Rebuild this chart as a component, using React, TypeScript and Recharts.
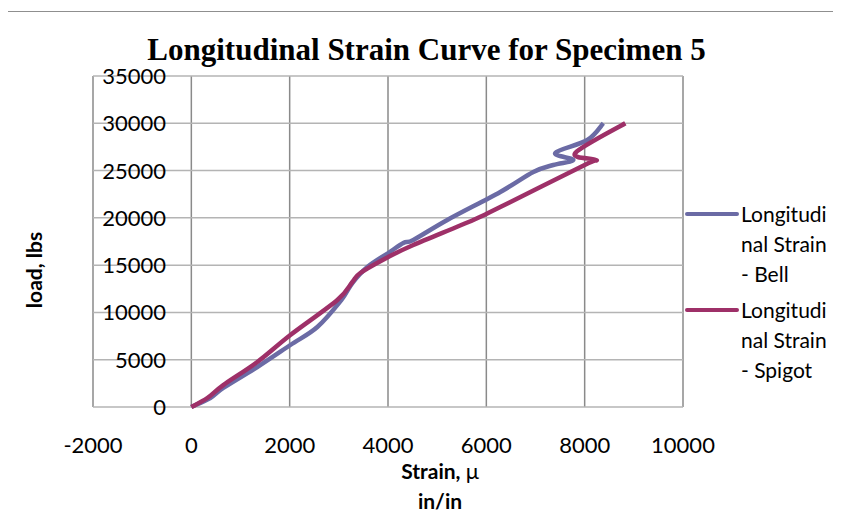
import React from "react";
import { CartesianGrid, Line, LineChart, XAxis, YAxis } from "recharts";

const bellStrain = [0, 386, 650, 1342, 2014, 2563, 3050, 3275, 3580, 4006, 4312, 4515, 5206, 6284, 6956, 7363, 7770, 7403, 8055, 8380];
const bellLoad = [0, 950, 2010, 4230, 6556, 8460, 11300, 13112, 14800, 16284, 17342, 17660, 19773, 22735, 24850, 25590, 26120, 26860, 28230, 30000];

const spigotStrain = [0, 325, 650, 1342, 2014, 2970, 3275, 3437, 4006, 4515, 5735, 6284, 8000, 8217, 7810, 8827];
const spigotLoad = [0, 950, 2320, 4760, 7613, 11315, 13218, 14170, 15861, 17130, 19773, 21150, 25590, 26120, 26860, 30000];

const xTicks = [-2000, 0, 2000, 4000, 6000, 8000, 10000];
const yTicks = [0, 5000, 10000, 15000, 20000, 25000, 30000, 35000];

const bellData = bellStrain.map((s, i) => ({ strain: s, load: bellLoad[i] }));
const spigotData = spigotStrain.map((s, i) => ({ strain: s, load: spigotLoad[i] }));

const BELL = "#6b6ba5";
const SPIGOT = "#9e3068";
const sans = "Lato, 'Open Sans', sans-serif";

const legendItems = [
  { color: BELL, lines: ["Longitudi", "nal Strain", "- Bell"], top: 199 },
  { color: SPIGOT, lines: ["Longitudi", "nal Strain", "- Spigot"], top: 295 },
];

// Excel-style smoothed line: bezier segments with control points at 1/6 of neighbour span
const smoothCurve = (context: any) => {
  let pts: number[][] = [];
  return {
    areaStart() {},
    areaEnd() {},
    lineStart() {
      pts = [];
    },
    point(x: number, y: number) {
      pts.push([+x, +y]);
    },
    lineEnd() {
      if (!pts.length) return;
      context.moveTo(pts[0][0], pts[0][1]);
      const t = 1 / 6;
      for (let i = 0; i < pts.length - 1; i++) {
        const p0 = pts[i - 1] || pts[i];
        const p1 = pts[i];
        const p2 = pts[i + 1];
        const p3 = pts[i + 2] || p2;
        context.bezierCurveTo(
          p1[0] + (p2[0] - p0[0]) * t,
          p1[1] + (p2[1] - p0[1]) * t,
          p2[0] - (p3[0] - p1[0]) * t,
          p2[1] - (p3[1] - p1[1]) * t,
          p2[0],
          p2[1]
        );
      }
    },
  };
};

const XTick = (props: any) => {
  const { x, y, payload } = props;
  return (
    <text x={x} y={y + 38} textAnchor="middle" fontFamily={sans} fontSize={22} fill="#000">
      {payload.value}
    </text>
  );
};

const YTick = (props: any) => {
  const { y, payload } = props;
  return (
    <text x={166} y={y + 8} textAnchor="end" fontFamily={sans} fontSize={22} fill="#000">
      {payload.value}
    </text>
  );
};

export default function App() {
  return (
    <div style={{ position: "relative", width: 841, height: 519, margin: -8, background: "#fff", overflow: "hidden" }}>
      <LineChart width={841} height={519} margin={{ top: 76, right: 158, bottom: 82, left: 33 }}>
        <CartesianGrid horizontal={false} stroke="#8a8a8a" strokeWidth={1.5} />
        <CartesianGrid vertical={false} stroke="#b4b4b4" strokeWidth={1.5} />
        <XAxis
          type="number"
          dataKey="strain"
          domain={[-2000, 10000]}
          ticks={xTicks}
          height={30}
          axisLine={false}
          tickLine={false}
          tick={<XTick />}
          allowDataOverflow
        />
        <YAxis
          type="number"
          dataKey="load"
          domain={[0, 35000]}
          ticks={yTicks}
          width={60}
          axisLine={false}
          tickLine={false}
          tick={<YTick />}
        />
        <Line data={bellData} dataKey="load" type={smoothCurve as any} stroke={BELL} strokeWidth={4.5} dot={false} isAnimationActive={false} />
        <Line data={spigotData} dataKey="load" type={smoothCurve as any} stroke={SPIGOT} strokeWidth={4.5} dot={false} isAnimationActive={false} />
      </LineChart>
      <div style={{ position: "absolute", left: 5, top: 11, width: 850, height: 520, borderLeft: "1px solid #8f8f8f", borderTop: "1px solid #8f8f8f", pointerEvents: "none" }} />
      <div style={{ position: "absolute", left: 0, width: 853, top: 33, textAlign: "center", fontFamily: "'Liberation Serif', serif", fontWeight: "bold", fontSize: 31, lineHeight: "34px" }}>
        Longitudinal Strain Curve for Specimen 5
      </div>
      <div style={{ position: "absolute", left: 33, top: 270, transform: "translate(-50%, -50%) rotate(-90deg)", fontFamily: sans, fontWeight: "bold", fontSize: 21, whiteSpace: "nowrap" }}>
        load, lbs
      </div>
      <div style={{ position: "absolute", left: 340, width: 200, top: 456, textAlign: "center", fontFamily: sans, fontWeight: "bold", fontSize: 21, lineHeight: "30px" }}>
        <div>Strain, <span style={{ fontSize: 22, fontWeight: "normal" }}>μ</span></div>
        <div>in/in</div>
      </div>
      {legendItems.map((it) => (
        <div key={it.lines[2]} style={{ position: "absolute", left: 685, top: it.top }}>
          <div style={{ position: "absolute", left: 0, top: 13, width: 54, height: 4, background: it.color, borderRadius: 2 }} />
          <div style={{ position: "absolute", left: 56, top: 0, fontFamily: sans, fontSize: 21, lineHeight: "30px", whiteSpace: "nowrap" }}>
            {it.lines.map((l) => (
              <div key={l}>{l}</div>
            ))}
          </div>
        </div>
      ))}
    </div>
  );
}
